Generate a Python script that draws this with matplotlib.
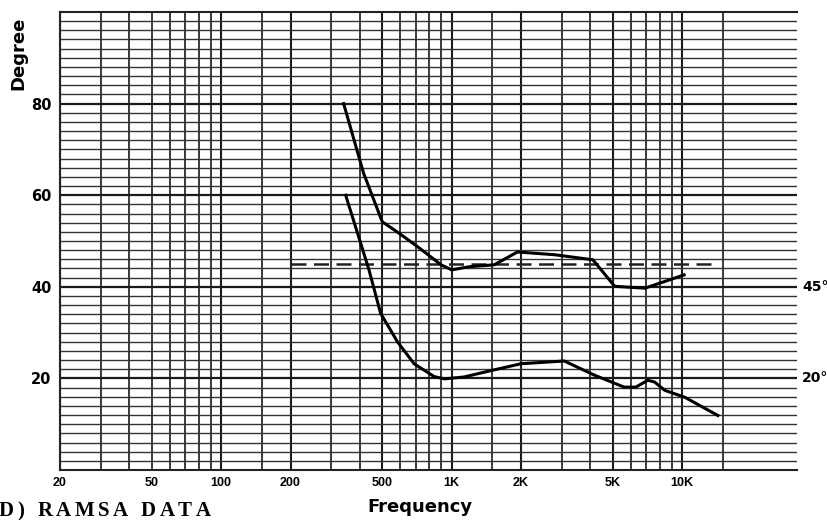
import numpy as np
import matplotlib
matplotlib.use("Agg")
import matplotlib.pyplot as plt

# ---- data ----
freq_45 = [340, 415, 500, 580, 710, 900, 1000, 1200, 1530, 1930, 2800, 4100, 5100, 6900, 10200]
deg_45 = [80, 64.8, 54.2, 52.0, 48.8, 44.8, 43.7, 44.4, 44.8, 47.6, 47.0, 45.9, 40.1, 39.7, 42.6]

freq_20 = [347, 438, 492, 582, 687, 840, 930, 1130, 1480, 2000, 3080, 4170, 5600, 6300, 7100, 7600, 8400, 10250, 14300]
deg_20 = [60, 43.7, 34.2, 28.0, 23.2, 20.4, 19.9, 20.3, 21.7, 23.2, 23.8, 20.7, 18.1, 18.1, 19.6, 19.2, 17.4, 15.9, 11.9]

ref_freq = [200, 14000]
ref_deg = [45, 45]

xtick_vals = [20, 50, 100, 200, 500, 1000, 2000, 5000, 10000]
xtick_labels = ["20", "50", "100", "200", "500", "1K", "2K", "5K", "10K"]
ytick_vals = [20, 40, 60, 80]
ytick_labels = ["20", "40", "60", "80"]
curve_labels = ["45°", "20°"]
curve_label_y = [40, 20]

# ---- figure ----
fig = plt.figure(figsize=(8.27, 5.20), dpi=100)
ax = fig.add_axes([60 / 827, 1 - 470 / 520, (797 - 60) / 827, (470 - 12) / 520])
ax.set_xscale("log")
ax.set_xlim(20, 31500)
ax.set_ylim(0, 100)

# graph-paper grid
vgrid = []
for dec in [10, 100, 1000, 10000]:
    for m in [1, 1.5, 2, 3, 4, 5, 6, 7, 8, 9]:
        v = m * dec
        if 20 <= v <= 15000:
            vgrid.append(v)
for v in vgrid:
    major = v in (20, 100, 200, 500, 1000, 2000, 5000, 10000)
    ax.axvline(v, color="#1a1a1a", lw=1.5 if major else 1.2, zorder=1)
for h in range(2, 100, 2):
    major = h % 20 == 0
    ax.axhline(h, color="#1a1a1a" if major else "#333333",
               lw=1.6 if major else 1.0, zorder=1)

# curves
ax.plot(ref_freq, ref_deg, color="#222222", lw=1.8, dashes=(6, 3), zorder=3)
ax.plot(freq_45, deg_45, color="black", lw=2.2, zorder=4, solid_joinstyle="round")
ax.plot(freq_20, deg_20, color="black", lw=2.2, zorder=4, solid_joinstyle="round")

# spines
for s in ["left", "bottom", "top"]:
    ax.spines[s].set_color("#222222")
    ax.spines[s].set_linewidth(1.5)
ax.spines["right"].set_visible(False)

ax.set_xticks(xtick_vals)
ax.set_xticklabels(xtick_labels, fontfamily="Liberation Sans", fontweight="bold", fontsize=9)
ax.xaxis.set_minor_locator(matplotlib.ticker.NullLocator())
ax.set_yticks(ytick_vals)
ax.set_yticklabels(ytick_labels, fontfamily="DejaVu Sans", fontweight="bold", fontsize=10.5)
ax.tick_params(axis="both", length=0)
ax.tick_params(axis="x", pad=5)
ax.tick_params(axis="y", pad=6)

# axis titles
fig.text(18 / 827, 1 - 53 / 520, "Degree", rotation=90, ha="center", va="center",
         fontfamily="DejaVu Sans", fontweight="bold", fontsize=13)
fig.text(420 / 827, 1 - 507 / 520, "Frequency", ha="center", va="center",
         fontfamily="DejaVu Sans", fontweight="bold", fontsize=13)

# curve labels at the right
for lab, yv in zip(curve_labels, curve_label_y):
    ypix = 470 - yv * 4.58
    fig.text(802 / 827, 1 - ypix / 520, lab, ha="left", va="center",
             fontfamily="DejaVu Sans", fontweight="bold", fontsize=10)

# caption with letter spacing
caption = "D) RAMSA DATA"
fig.canvas.draw()
renderer = fig.canvas.get_renderer()
xpos = -1.0
for ch in caption:
    t = fig.text(xpos / 827, 1 - 511 / 520, ch, ha="left", va="center",
                 fontfamily="Liberation Serif", fontweight="bold", fontsize=15)
    if ch == " ":
        w = 6.0
    else:
        w = t.get_window_extent(renderer).width
    xpos += w + 3.5

fig.savefig("out.png", dpi=100)
